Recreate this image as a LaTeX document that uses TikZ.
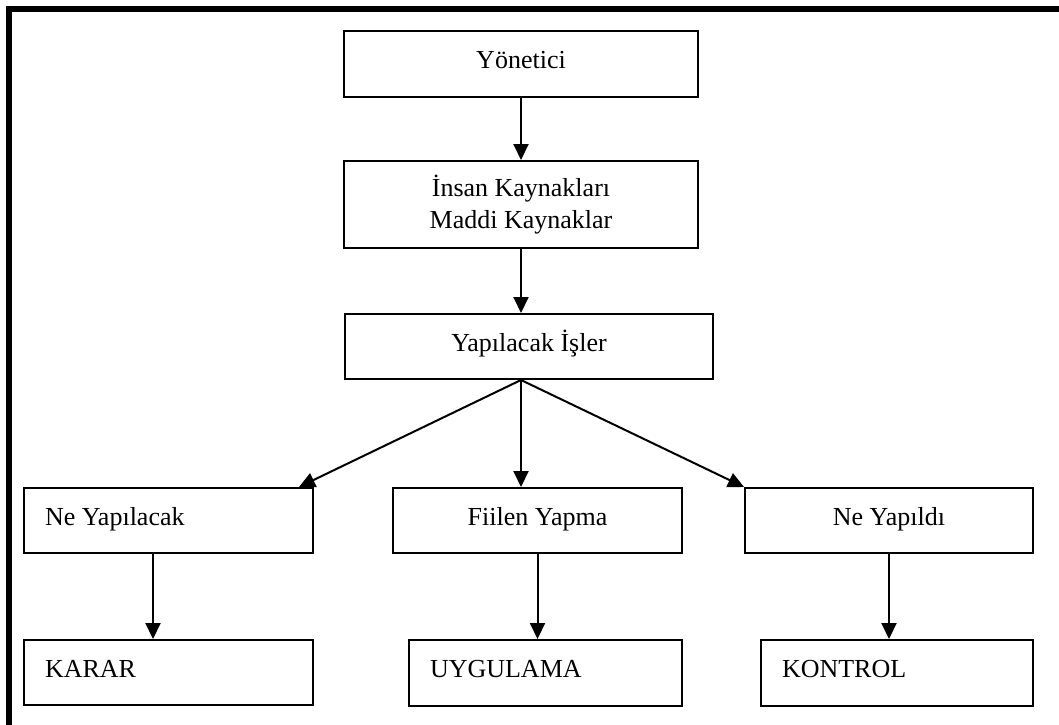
\documentclass[tikz,border=0pt]{standalone}
\usepackage{fontspec}
\setmainfont{Liberation Serif}
\usetikzlibrary{arrows.meta}

\begin{document}
\begin{tikzpicture}[x=1pt,y=-1pt,
  box/.style={draw, line width=2pt, inner sep=0pt,
    font=\fontsize{26}{32}\selectfont, text height=17pt, text depth=8pt},
  leftbox/.style={box, align=flush left, inner xsep=21pt},
  arr/.style={line width=2pt, -{Triangle[length=16pt,width=15pt]}}]
  \useasboundingbox (0,0) rectangle (1059,724);

  % heavy frame along the top and left
  \draw[line width=6pt] (9,730) -- (9,9) -- (1065,9);

  % upper column
  \node[box, minimum width=354pt, minimum height=66pt] (yon) at (521,64) {Yönetici};
  \node[draw, line width=2pt, minimum width=354pt, minimum height=87pt, align=center,
        font=\fontsize{26}{32}\selectfont] (ik) at (521,204.5)
        {İnsan Kaynakları\\Maddi Kaynaklar};
  \node[box, minimum width=368pt, minimum height=65pt] (yi) at (529,346.5) {Yapılacak İşler};

  % middle row
  \node[leftbox, minimum width=289pt, minimum height=65pt, text width=247pt] (ny) at (168.5,520.5) {Ne Yapılacak};
  \node[box, minimum width=289pt, minimum height=65pt] (fy) at (537.5,520.5) {Fiilen Yapma};
  \node[box, minimum width=288pt, minimum height=65pt] (nyd) at (889,520.5) {Ne Yapıldı};

  % bottom row
  \node[leftbox, minimum width=289pt, minimum height=65pt, text width=247pt] (karar) at (168.5,672.5) {KARAR};
  \node[leftbox, minimum width=273pt, minimum height=66pt, text width=231pt] (uyg) at (545.5,673) {UYGULAMA};
  \node[leftbox, minimum width=272pt, minimum height=66pt, text width=230pt] (kon) at (897,673) {KONTROL};

  % connectors
  \coordinate (hub) at (yi.south -| ik.south);
  \draw[arr] (yon.south) -- (yon.south |- ik.north);
  \draw[arr] (ik.south) -- (ik.south |- yi.north);
  \draw[arr] (hub) -- (hub |- fy.north);
  \draw[arr] (hub) -- ([xshift=-15pt]ny.north east);
  \draw[arr] (hub) -- (nyd.north west);
  \coordinate (nyfoot) at ([xshift=-15.5pt]ny.south);
  \draw[arr] (nyfoot) -- (nyfoot |- karar.north);
  \draw[arr] (fy.south) -- (fy.south |- uyg.north);
  \draw[arr] (nyd.south) -- (nyd.south |- kon.north);
\end{tikzpicture}
\end{document}
